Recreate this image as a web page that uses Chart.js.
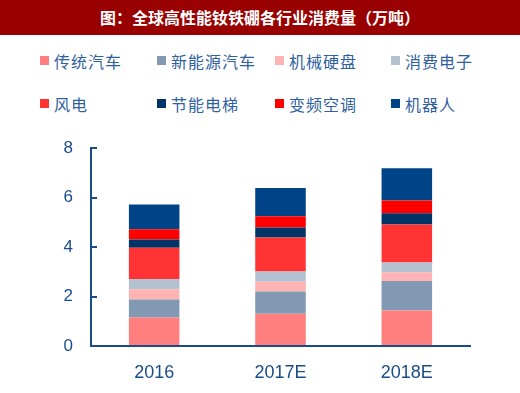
<!DOCTYPE html>
<html>
<head>
<meta charset="utf-8">
<script src="https://cdn.jsdelivr.net/npm/chart.js@4"></script>
<style>
  html, body { margin: 0; padding: 0; background: #fff; }
  #wrap { position: relative; width: 520px; height: 393px; overflow: hidden; }
  #title {
    position: absolute; left: 0; top: 0; width: 520px; height: 35px;
    background: #990000; color: #fff; text-align: center;
    font: bold 16px "Noto Sans CJK SC", sans-serif; line-height: 35px;
  }
  .lg { position: absolute; font: 16px "Noto Sans CJK SC", sans-serif; color: #2f5f9e; letter-spacing: 1px; white-space: nowrap; }
  .lg i { position: absolute; width: 9px; height: 9px; left: -14px; top: 7px; }
  #box { position: absolute; left: 0; top: 114px; width: 520px; height: 279px; }
</style>
</head>
<body>
<div id="wrap">
  <div id="title">图：全球高性能钕铁硼各行业消费量（万吨）</div>
  <div id="legend"></div>
  <div id="box"><canvas id="c" width="520" height="279"></canvas></div>
</div>
<script>
const years = ['2016', '2017E', '2018E'];
const names = ['传统汽车', '新能源汽车', '机械硬盘', '消费电子', '风电', '节能电梯', '变频空调', '机器人'];
const colors = ['#ff7f7f', '#8199b3', '#ffb3b3', '#b3c1d1', '#ff3333', '#003366', '#ff0000', '#004488'];
const traditionalCar = [1.15, 1.30, 1.44];
const newEnergyCar = [0.73, 0.90, 1.19];
const hardDisk = [0.42, 0.40, 0.35];
const consumerElec = [0.41, 0.41, 0.40];
const windPower = [1.26, 1.38, 1.53];
const elevator = [0.34, 0.40, 0.46];
const airCon = [0.41, 0.46, 0.51];
const robot = [1.00, 1.14, 1.31];
const yTicks = [0, 2, 4, 6, 8];

const series = [traditionalCar, newEnergyCar, hardDisk, consumerElec, windPower, elevator, airCon, robot];

// legend, 2 rows x 4 columns
const colX = [54, 171, 289, 405];
const rowY = [49, 92];
const legend = document.getElementById('legend');
names.forEach((n, i) => {
  const d = document.createElement('div');
  d.className = 'lg';
  d.style.left = colX[i % 4] + 'px';
  d.style.top = rowY[Math.floor(i / 4)] + 'px';
  d.innerHTML = '<i style="background:' + colors[i] + '"></i>' + n;
  legend.appendChild(d);
});

const axisColor = '#1a4c8a';
new Chart(document.getElementById('c'), {
  type: 'bar',
  data: {
    labels: years,
    datasets: series.map((s, i) => ({
      label: names[i],
      data: s,
      backgroundColor: colors[i],
      borderWidth: 0,
      barPercentage: 0.4,
      categoryPercentage: 1
    }))
  },
  options: {
    responsive: false,
    animation: false,
    devicePixelRatio: 1,
    layout: { padding: { top: 1, right: 50, left: 0, bottom: 0 } },
    plugins: { legend: { display: false }, tooltip: { enabled: false } },
    scales: {
      x: {
        stacked: true,
        grid: { display: false },
        border: { color: axisColor, width: 2 },
        ticks: { color: axisColor, font: { family: 'Liberation Sans', size: 18 }, padding: 8 },
        afterFit: s => { s.height = 47; }
      },
      y: {
        stacked: true,
        min: 0, max: 8,
        afterBuildTicks: s => { s.ticks = yTicks.map(v => ({ value: v })); },
        grid: { drawOnChartArea: false, drawTicks: true, tickLength: -6, color: axisColor, lineWidth: 2 },
        border: { color: axisColor, width: 2 },
        ticks: { color: axisColor, font: { family: 'Liberation Sans', size: 17 }, padding: 24 },
        afterFit: s => { s.width = 91; }
      }
    }
  }
});
</script>
</body>
</html>
